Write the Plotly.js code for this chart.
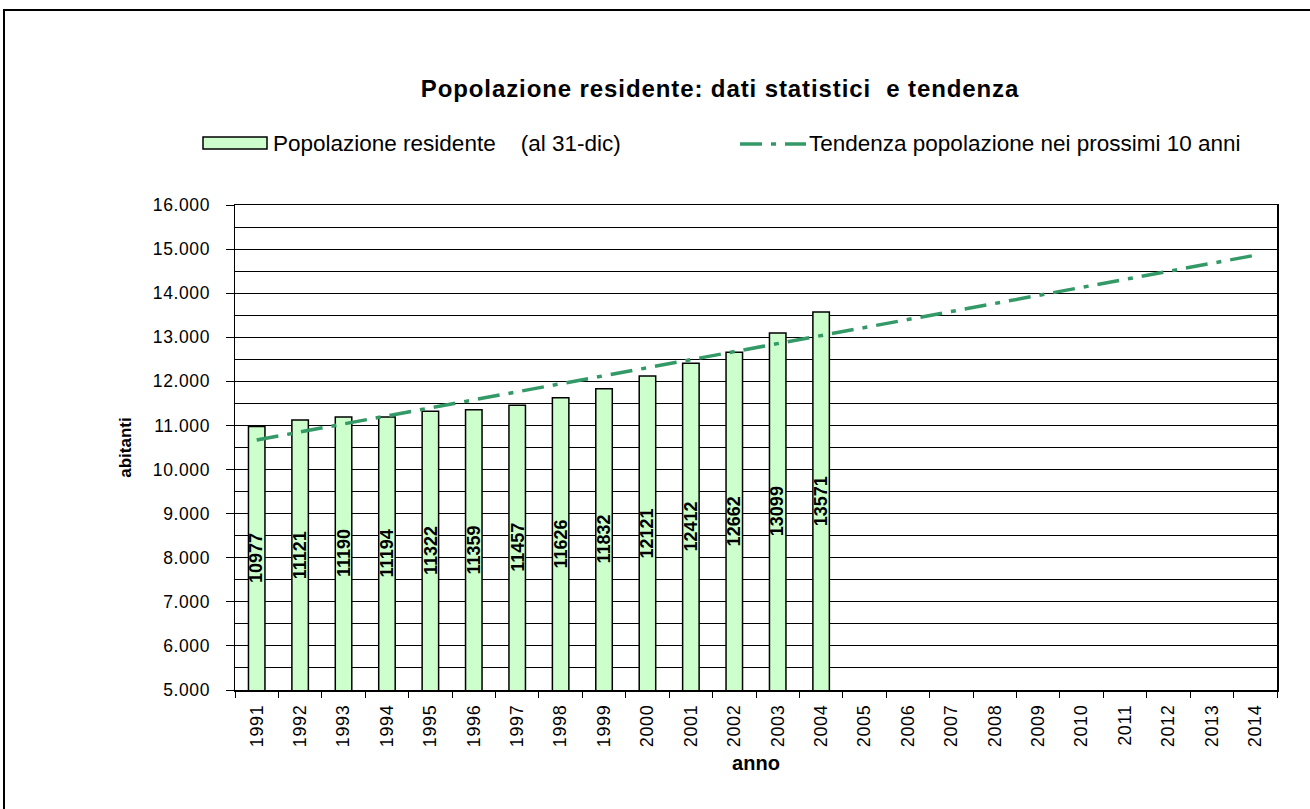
<!DOCTYPE html>
<html>
<head>
<meta charset="utf-8">
<script src="https://cdn.plot.ly/plotly-3.0.1.min.js"></script>
<style>
  html, body { margin: 0; padding: 0; overflow: hidden; background: #fff; }
  #chart { position: absolute; left: 0; top: 0; width: 1310px; height: 809px; }
  #frame { position: absolute; left: 3px; top: 9px; width: 1400px; height: 900px;
           border-left: 2px solid #000; border-top: 2px solid #000; pointer-events: none; }
  #chart .gtitle { letter-spacing: 0.9px; }
  #chart .ytick text { letter-spacing: 0.6px; }
  #chart .xtick text { letter-spacing: 0.6px; }
</style>
</head>
<body>
<div id="chart"></div>
<div id="frame"></div>
<script>
// ---- data ----
const years = ['1991','1992','1993','1994','1995','1996','1997','1998','1999','2000','2001','2002',
               '2003','2004','2005','2006','2007','2008','2009','2010','2011','2012','2013','2014'];
const popYears = ['1991','1992','1993','1994','1995','1996','1997','1998','1999','2000','2001','2002','2003','2004'];
const popValues = [10977, 11121, 11190, 11194, 11322, 11359, 11457, 11626, 11832, 12121, 12412, 12662, 13099, 13571];
const trendYears = ['1991', '2014'];
const trendValues = [10670, 14860];
const seriesNames = ['Popolazione residente    (al 31-dic)', 'Tendenza popolazione nei prossimi 10 anni'];

const FONT = 'Liberation Sans, Arial, sans-serif';
const yBase = 5000;
const TREND_COLOR = '#339966';
const TREND_DASH = '22px,9px,5px,9px';

// plot-area pixel geometry (for legend placement in paper coords)
const L = 235, R = 33, T = 205, B = 119, W = 1310, H = 809;
const pw = W - L - R, ph = H - T - B;
const px = v => (v - L) / pw;
const py = v => (H - B - v) / ph;

const bars = {
  type: 'bar',
  name: seriesNames[0],
  x: popYears,
  y: popValues,
  marker: { color: '#ccffcc', line: { color: '#000', width: 1.5 } },
  showlegend: false
};

const trend = {
  type: 'scatter',
  mode: 'lines',
  name: seriesNames[1],
  x: trendYears,
  y: trendValues,
  line: { color: TREND_COLOR, width: 3.5, dash: TREND_DASH },
  showlegend: false
};

const annotations = popYears.map((yr, i) => ({
  x: years.indexOf(yr), y: (yBase + popValues[i]) / 2, xref: 'x', yref: 'y',
  text: String(popValues[i]), textangle: -90, showarrow: false,
  font: { family: FONT, size: 18, color: '#000', weight: 'bold' }
}));

// custom legend (text)
annotations.push({
  xref: 'paper', yref: 'paper', x: px(271), y: py(143), xanchor: 'left', yanchor: 'middle',
  text: seriesNames[0].replace(/ /g, '&nbsp;'), showarrow: false,
  font: { family: FONT, size: 22.5, color: '#000' }
});
annotations.push({
  xref: 'paper', yref: 'paper', x: px(807), y: py(143), xanchor: 'left', yanchor: 'middle',
  text: seriesNames[1], showarrow: false,
  font: { family: FONT, size: 22.5, color: '#000' }
});

const shapes = [
  { type: 'rect', xref: 'paper', yref: 'paper', x0: px(203), x1: px(267), y0: py(149), y1: py(137),
    fillcolor: '#ccffcc', line: { color: '#000', width: 1.5 } },
  { type: 'line', xref: 'paper', yref: 'paper', x0: px(740), x1: px(806), y0: py(144), y1: py(144),
    line: { color: TREND_COLOR, width: 3.5, dash: TREND_DASH } }
];

const layout = {
  width: W, height: H,
  margin: { l: L, r: R, t: T, b: B },
  paper_bgcolor: '#fff', plot_bgcolor: '#fff',
  separators: ',.',
  font: { family: FONT, size: 17, color: '#000' },
  bargap: 0.62,
  showlegend: false,
  title: {
    text: '<b>Popolazione residente: dati statistici  e tendenza</b>',
    font: { family: FONT, size: 24, color: '#000' },
    xref: 'paper', x: px(720), xanchor: 'center',
    yref: 'container', y: 1 - 89 / H, yanchor: 'middle'
  },
  xaxis: {
    type: 'category', categoryorder: 'array', categoryarray: years,
    range: [-0.5, 23.5],
    tickangle: -90, tickson: 'boundaries', ticks: 'outside', ticklen: 6, tickcolor: '#000',
    ticklabelstandoff: 6,
    tickfont: { family: FONT, size: 18, color: '#000' },
    showline: true, linecolor: '#000', linewidth: 1.5, mirror: true,
    showgrid: false,
    title: { text: '<b>anno</b>', font: { family: FONT, size: 20, color: '#000' }, standoff: 12 }
  },
  yaxis: {
    range: [5000, 16000], dtick: 1000, tick0: 5000, tickformat: ',d',
    ticks: 'outside', ticklen: 8, tickcolor: '#000',
    ticklabelstandoff: 12,
    tickfont: { family: FONT, size: 17.5, color: '#000' },
    showline: true, linecolor: '#000', linewidth: 1.5, mirror: true,
    showgrid: true, gridcolor: '#000', gridwidth: 1,
    minor: { dtick: 500, showgrid: true, gridcolor: '#000', gridwidth: 1, ticks: '' },
    zeroline: false,
    title: { text: '<b>abitanti</b>', font: { family: FONT, size: 17, color: '#000' }, standoff: 20 }
  },
  annotations: annotations,
  shapes: shapes
};

Plotly.newPlot('chart', [bars, trend], layout, { displayModeBar: false, staticPlot: true });
</script>
</body>
</html>
